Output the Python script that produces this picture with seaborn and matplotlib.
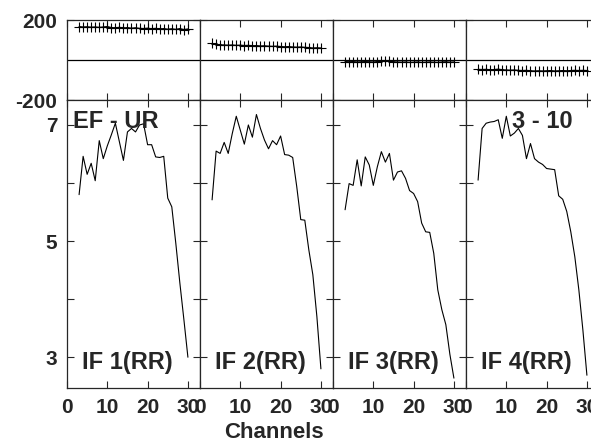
import numpy as np
import pandas as pd
import matplotlib.pyplot as plt
import seaborn as sns

# channel numbers used for every IF
channels = list(range(3, 31))

# amplitudes (lower panels)
amp_if1 = [5.80, 6.46, 6.15, 6.34, 6.04, 6.73, 6.42, 6.64, 6.83, 7.03, 6.71, 6.39, 6.88, 6.94,
           6.88, 7.00, 7.02, 6.66, 6.66, 6.45, 6.44, 6.46, 5.74, 5.59, 4.96, 4.28, 3.65, 3.00]
amp_if2 = [5.71, 6.55, 6.51, 6.70, 6.51, 6.85, 7.15, 6.91, 6.67, 7.00, 6.79, 7.18, 6.94, 6.74,
           6.59, 6.73, 6.66, 6.81, 6.49, 6.48, 6.44, 5.94, 5.37, 5.36, 4.85, 4.42, 3.70, 2.80]
amp_if3 = [5.54, 5.99, 5.96, 6.40, 5.95, 6.45, 6.31, 5.96, 6.28, 6.54, 6.36, 6.51, 6.05, 6.19,
           6.21, 6.08, 5.87, 5.82, 5.68, 5.31, 5.16, 5.15, 4.79, 4.16, 3.82, 3.56, 3.05, 2.64]
amp_if4 = [6.05, 6.94, 7.03, 7.05, 7.06, 7.09, 6.77, 7.15, 6.81, 6.86, 6.94, 6.82, 6.42, 6.68,
           6.42, 6.36, 6.32, 6.25, 6.24, 6.23, 5.78, 5.72, 5.51, 5.16, 4.73, 4.16, 3.47, 2.69]

# phases (upper panels)
ph_if1 = [167, 165, 166, 164, 165, 163, 165, 167, 162, 161, 163, 160, 162, 159,
          161, 158, 157, 159, 156, 158, 155, 157, 154, 156, 153, 157, 152, 155]
ph_if2 = [83, 78, 76, 75, 74, 75, 73, 74, 72, 73, 71, 72, 70, 71,
          69, 68, 69, 67, 66, 67, 65, 64, 65, 63, 62, 60, 61, 60]
ph_if3 = [-8, -9, -8, -10, -9, -8, -9, -10, -8, -6, -5, -7, -9, -10,
          -11, -10, -12, -11, -10, -12, -11, -10, -11, -12, -10, -9, -11, -10]
ph_if4 = [-47, -48, -47, -49, -48, -46, -49, -50, -51, -50, -52, -53, -52, -54,
          -55, -54, -55, -54, -53, -55, -54, -53, -54, -53, -52, -53, -52, -53]

amps = [amp_if1, amp_if2, amp_if3, amp_if4]
phases = [ph_if1, ph_if2, ph_if3, ph_if4]
if_labels = ['IF 1(RR)', 'IF 2(RR)', 'IF 3(RR)', 'IF 4(RR)']

sns.set_style('ticks')
plt.rcParams['font.family'] = ['Liberation Sans', 'DejaVu Sans']
plt.rcParams['font.weight'] = 'bold'
plt.rcParams['axes.unicode_minus'] = False

fig = plt.figure(figsize=(5.91, 4.42), dpi=100)

W, H = 591.0, 442.0
x0, pw = 67, 133
for i in range(4):
    left = (x0 + i * pw) / W
    ax_ph = fig.add_axes([left, 1 - 100 / H, pw / W, 80 / H])
    ax_am = fig.add_axes([left, 1 - 388 / H, pw / W, 288 / H])

    df = pd.DataFrame({'ch': channels, 'amp': amps[i], 'ph': phases[i]})
    sns.lineplot(data=df, x='ch', y='ph', ax=ax_ph, color='black', lw=0.9)
    sns.scatterplot(data=df, x='ch', y='ph', ax=ax_ph, color='black',
                    marker='+', s=45, linewidth=0.8)
    sns.lineplot(data=df, x='ch', y='amp', ax=ax_am, color='black', lw=0.8)

    ax_ph.axhline(0, color='black', lw=0.9)

    ax_ph.set_xlim(0, 33)
    ax_ph.set_ylim(-200, 200)
    ax_am.set_xlim(0, 33)
    ax_am.set_ylim(2.47, 7.43)

    for ax in (ax_ph, ax_am):
        ax.set_xlabel('')
        ax.set_ylabel('')
        ax.set_xticks([0, 10, 20, 30])
        ax.tick_params(direction='in', length=5, width=0.8, top=True, right=True,
                       labelsize=15, pad=7)
        for s in ax.spines.values():
            s.set_linewidth(0.9)

    ax_ph.set_yticks([-200, 200])
    ax_ph.set_xticklabels([])
    ax_am.set_yticks([3, 4, 5, 6, 7])
    ax_am.set_yticklabels(['3', '', '5', '', '7'])
    if i > 0:
        ax_ph.set_yticklabels([])
        ax_am.set_yticklabels([])
    for lab in ax_am.get_xticklabels() + ax_am.get_yticklabels() + ax_ph.get_yticklabels():
        lab.set_fontweight('bold')

    ax_am.text(0.113, 0.066, if_labels[i], transform=ax_am.transAxes,
               fontsize=17, fontweight='bold', ha='left', va='baseline')
    if i == 0:
        ax_am.text(0.043, 0.903, 'EF - UR', transform=ax_am.transAxes,
                   fontsize=17, fontweight='bold', ha='left', va='baseline')
    if i == 3:
        ax_am.text(0.805, 0.903, '3 - 10', transform=ax_am.transAxes,
                   fontsize=17, fontweight='bold', ha='right', va='baseline')

fig.text(274 / W, 4 / H, 'Channels', fontsize=16, fontweight='bold',
         ha='center', va='baseline')

fig.savefig('out.png', dpi=100)
